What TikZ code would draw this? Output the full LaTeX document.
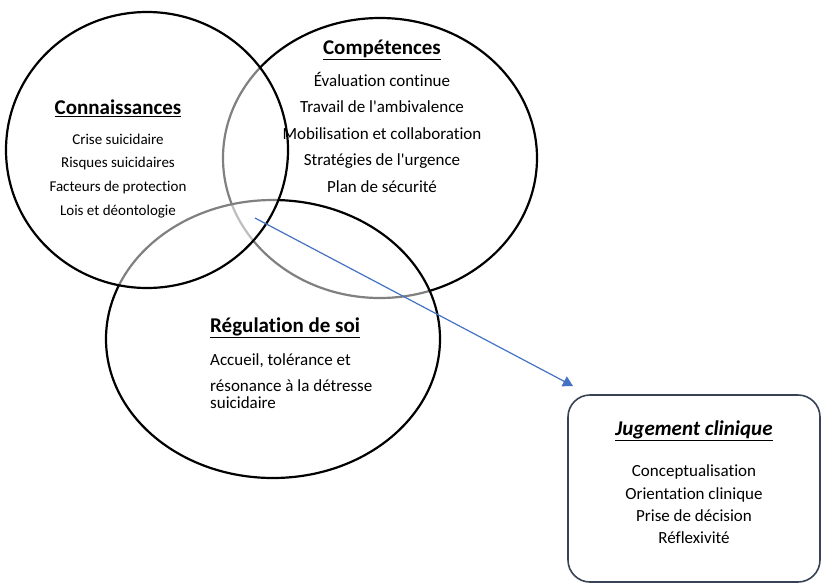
\documentclass[tikz,border=0pt]{standalone}
\usepackage{fontspec}
\setmainfont{Carlito}[Ligatures=NoCommon]
\usetikzlibrary{positioning, shapes.geometric, arrows.meta}

\definecolor{bleufleche}{RGB}{68,114,196}
\definecolor{bordure}{RGB}{55,66,84}

\begin{document}
\begin{tikzpicture}[x=1pt, y=1pt,
  cercle/.style={ellipse, draw=black, line width=2.2pt, fill=white,
                 fill opacity=0.5, inner sep=0pt},
  titre/.style={font=\fontsize{21}{25}\selectfont\bfseries, inner sep=0pt},
  liste/.style={align=center, inner sep=0pt,
                font=\fontsize{17}{26.5}\selectfont},
  cadre/.style={draw=bordure, line width=1.6pt, rounded corners=22pt,
                minimum width=252pt, minimum height=187pt},
  fleche/.style={draw=bleufleche, line width=1.2pt,
                 -{Triangle[length=10pt, width=11pt]}}
]

  \useasboundingbox (0,0) rectangle (822,-584);

  %=========================================================
  % 1. Les trois cercles (ordre : competences, regulation,
  %    connaissances, pour griser les arcs recouverts)
  %=========================================================
  \node[cercle, minimum width=314pt, minimum height=280pt] (comp) at (380,-158) {};
  \node[cercle, minimum width=334pt, minimum height=278pt] (regu) at (273,-339) {};
  \node[cercle, minimum width=282pt, minimum height=276pt] (conn) at (147,-150) {};

  %=========================================================
  % 2. Textes des cercles
  %=========================================================
  \node[titre] (conn-titre) at (118,-108) {\underline{Connaissances}};
  \node[liste, font=\fontsize{15}{23.7}\selectfont, below=17pt of conn-titre]
    (conn-liste) {Crise suicidaire\\ Risques suicidaires\\
                  Facteurs de protection\\ Lois et déontologie};

  \node[titre] (comp-titre) at (382,-50) {\underline{Compétences}};
  \node[liste, below=12pt of comp-titre]
    (comp-liste) {Évaluation continue\\ Travail de l\textquotesingle ambivalence\\
                  Mobilisation et collaboration\\
                  Stratégies de l\textquotesingle urgence\\
                  Plan de sécurité};

  \node[titre, anchor=west] (regu-titre) at (210,-328) {\underline{Régulation de soi}};
  \node[liste, align=left, font=\fontsize{17}{16.5}\selectfont,
        below right=15pt and 0pt of regu-titre.south west]
    (regu-liste) {Accueil, tolérance et\\[10pt]
                  résonance à la détresse\\ suicidaire};

  %=========================================================
  % 3. Jugement clinique et fleche
  %=========================================================
  \node[cadre] (juge) at (694,-488.5) {};
  \node[titre, font=\fontsize{21}{25}\selectfont\bfseries\itshape,
        below=26pt of juge.north] (juge-titre) {\underline{Jugement clinique}};
  \node[liste, font=\fontsize{17}{22.3}\selectfont, below=24pt of juge-titre]
    (juge-liste) {Conceptualisation\\ Orientation clinique\\
                  Prise de décision\\ Réflexivité};

  \coordinate (depart) at (255,-218);
  \coordinate (arrivee) at (573,-386);
  \draw[fleche] (depart) -- (arrivee);

\end{tikzpicture}
\end{document}
